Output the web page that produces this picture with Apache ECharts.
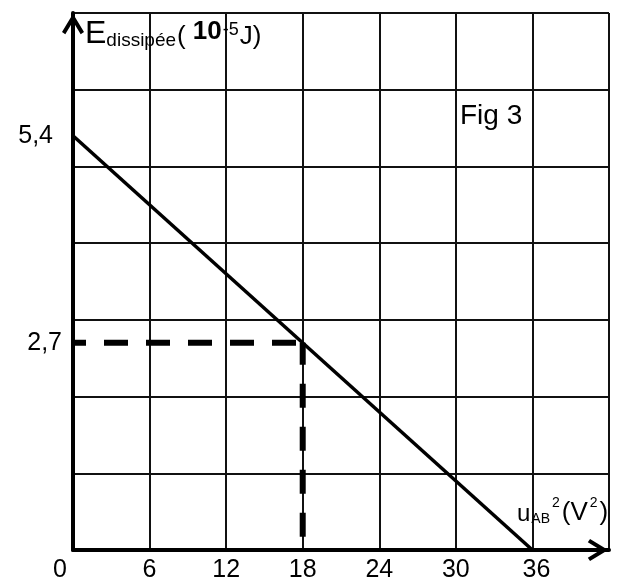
<!DOCTYPE html>
<html>
<head>
<meta charset="utf-8">
<script src="https://cdn.jsdelivr.net/npm/echarts@6/dist/echarts.min.js"></script>
<style>
  html, body { margin: 0; padding: 0; background: #fff; }
  #energie { width: 622px; height: 585px; }
</style>
</head>
<body>
<div id="energie"></div>
<script>
// graduations affichées
const xTicks = [0, 6, 12, 18, 24, 30, 36]
const yTicks = [2.7, 5.4]

// droite E = f(uAB²)
const droite = [[0, 5.4], [36, 0]]
// pointillés de lecture
const lectureH = [[0, 2.7], [18, 2.7]]
const lectureV = [[18, 2.7], [18, 0]]

const chart = echarts.init(document.getElementById('energie'))
const fleche = 'path://M10,0 L20,16.5 L17,18.5 L10,7 L3,18.5 L0,16.5 Z'
const noir = '#000'

const option = {
  animation: false,
  textStyle: { fontFamily: 'Liberation Sans', color: noir },
  grid: { left: 73, top: 13, right: 13, bottom: 35 },
  xAxis: {
    type: 'value',
    min: 0,
    max: 42,
    interval: 6,
    name: '{u|u}{ab|AB}{sup|2}{p|(V}{sup|2}{p|)}',
    nameLocation: 'end',
    nameGap: -92,
    nameTextStyle: {
      align: 'left',
      verticalAlign: 'bottom',
      padding: [0, 0, 24, 0],
      rich: {
        u: { fontSize: 24, verticalAlign: 'bottom', color: noir },
        ab: { fontSize: 14, verticalAlign: 'bottom', padding: [0, 0, 0, 1], color: noir },
        sup: { fontSize: 14, verticalAlign: 'bottom', padding: [0, 2, 16, 2], color: noir },
        p: { fontSize: 26, verticalAlign: 'bottom', color: noir }
      }
    },
    axisLine: {
      lineStyle: { color: noir, width: 4 },
      symbol: ['none', fleche],
      symbolSize: [22, 22],
      symbolOffset: [0, -11]
    },
    axisTick: { show: false },
    splitLine: { show: true, lineStyle: { color: '#111', width: 2 } },
    axisLabel: {
      customValues: xTicks,
      fontSize: 25,
      margin: 8,
      color: noir,
      formatter: v => v === 0 ? '{zero|0}' : v === 36 ? '{fin|36}' : String(v),
      rich: {
        zero: { fontSize: 25, padding: [0, 26, 0, 0], color: noir },
        fin: { fontSize: 25, padding: [0, 0, 10, 8], color: noir }
      }
    }
  },
  yAxis: {
    type: 'value',
    min: 0,
    max: 7,
    interval: 1,
    name: '{E|E}{s|dissipée}{p|(}{b|10}{sup|-5}{p|J)}',
    nameLocation: 'end',
    nameGap: -5,
    nameTextStyle: {
      align: 'left',
      verticalAlign: 'top',
      padding: [0, 0, 0, 12],
      rich: {
        E: { fontSize: 32, verticalAlign: 'bottom', color: noir },
        s: { fontSize: 19, verticalAlign: 'bottom', color: noir },
        p: { fontSize: 26, verticalAlign: 'bottom', padding: [0, 1, 0, 1], color: noir },
        b: { fontSize: 26, fontWeight: 'bold', verticalAlign: 'bottom', padding: [0, 0, 5, 6], color: noir },
        sup: { fontSize: 18, verticalAlign: 'bottom', padding: [0, 0, 11, 1], color: noir }
      }
    },
    axisLine: {
      lineStyle: { color: noir, width: 4 },
      symbol: ['none', fleche],
      symbolSize: [22, 22],
      symbolOffset: [0, -11]
    },
    axisTick: { show: false },
    splitLine: { show: true, lineStyle: { color: '#111', width: 2 } },
    axisLabel: {
      customValues: yTicks,
      fontSize: 25,
      margin: 11,
      color: noir,
      formatter: v => v === 5.4 ? '{loin|5,4}' : String(v).replace('.', ','),
      rich: {
        loin: { fontSize: 25, padding: [0, 9, 0, 0], color: noir }
      }
    }
  },
  graphic: [
    {
      type: 'text',
      left: 460,
      top: 102,
      style: { text: 'Fig 3', fontSize: 28, fontFamily: 'Liberation Sans', fill: noir }
    }
  ],
  series: [
    {
      type: 'line',
      data: lectureH,
      showSymbol: false,
      lineStyle: { color: noir, width: 6, type: [24, 18], dashOffset: 11 }
    },
    {
      type: 'line',
      data: lectureV,
      showSymbol: false,
      lineStyle: { color: noir, width: 6, type: [24, 19], dashOffset: 2 }
    },
    {
      type: 'line',
      data: droite,
      showSymbol: false,
      lineStyle: { color: noir, width: 3.5 }
    }
  ]
}

chart.setOption(option)
</script>
</body>
</html>
